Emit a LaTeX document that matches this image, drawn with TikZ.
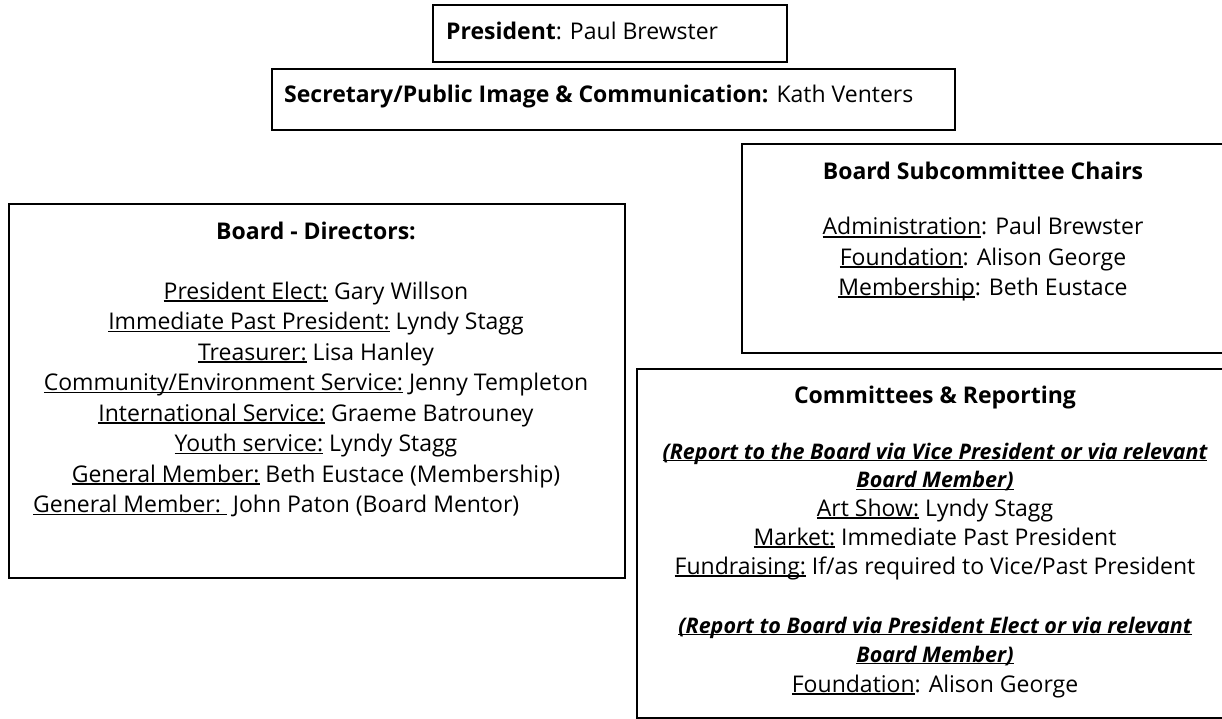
\documentclass[tikz,border=0pt]{standalone}
\usepackage{fontspec}
\setmainfont{Open Sans}
\newcommand{\uln}[1]{\setbox0\hbox{#1}\rlap{\rule[-0.11em]{\wd0}{0.06em}}\box0\relax}
\begin{document}
\begin{tikzpicture}[x=1pt,y=-1pt,
  frame/.style={draw, line width=1.8pt, inner sep=0pt, outer sep=0pt},
  txt/.style={inner sep=0pt, anchor=base, font=\fontsize{23}{27}\selectfont},
  txtl/.style={txt, anchor=base west},
  rep/.style={txt, font=\fontsize{21.5}{26}\selectfont\bfseries\itshape}]
\useasboundingbox (0,0) rectangle (1222,719);
% boxes
\node[frame, minimum width=354pt, minimum height=57pt] (pres) at (610,33.5) {};
\node[frame, minimum width=683pt, minimum height=61pt] (sec) at (613.5,99.5) {};
\node[frame, minimum width=616pt, minimum height=374pt] (board) at (317,391) {};
\node[frame, minimum width=498pt, minimum height=209pt] (subc) at (991,248.5) {};
\node[frame, minimum width=603pt, minimum height=349pt] (comm) at (938.5,543.5) {};
% top boxes
\node[txtl] (prest) at (446,40) {\textbf{President}: Paul Brewster};
\node[txtl] (sect) at (284,103) {\textbf{Secretary/Public Image \& Communication:} Kath Venters};
% board directors
\node[txt] (bt) at (316,240) {\textbf{Board - Directors:}};
\node[txt] (b1) at (316,299) {\uln{President Elect:} Gary Willson};
\node[txt] (b2) at (316,329.5) {\uln{Immediate Past President:} Lyndy Stagg};
\node[txt] (b3) at (316,360) {\uln{Treasurer:} Lisa Hanley};
\node[txt] (b4) at (316,390.5) {\uln{Community/Environment Service:} Jenny Templeton};
\node[txt] (b5) at (316,421) {\uln{International Service:} Graeme Batrouney};
\node[txt] (b6) at (316,451.5) {\uln{Youth service:} Lyndy Stagg};
\node[txt] (b7) at (316,482) {\uln{General Member:} Beth Eustace (Membership)};
\node[txtl] (b8) at (33,512.5) {\uln{General Member:\ }\ John Paton (Board Mentor)};
% subcommittee
\node[txt] (st) at (983,180) {\textbf{Board Subcommittee Chairs}};
\node[txt] (s1) at (983,235) {\uln{Administration}: Paul Brewster};
\node[txt] (s2) at (983,265) {\uln{Foundation}: Alison George};
\node[txt] (s3) at (983,295) {\uln{Membership}: Beth Eustace};
% committees
\node[txt] (ct) at (935,403) {\textbf{Committees \& Reporting}};
\node[rep] (c1) at (935,459) {\uln{(Report to the Board via Vice President or via relevant}};
\node[rep] (c2) at (935,487.5) {\uln{Board Member)}};
\node[txt] (c3) at (935,516) {\uln{Art Show:} Lyndy Stagg};
\node[txt] (c4) at (935,545) {\uln{Market:} Immediate Past President};
\node[txt] (c5) at (935,574) {\uln{Fundraising:} If/as required to Vice/Past President};
\node[rep] (c6) at (935,633) {\uln{(Report to Board via President Elect or via relevant}};
\node[rep] (c7) at (935,662) {\uln{Board Member)}};
\node[txt] (c8) at (935,692) {\uln{Foundation}: Alison George};
\end{tikzpicture}
\end{document}
